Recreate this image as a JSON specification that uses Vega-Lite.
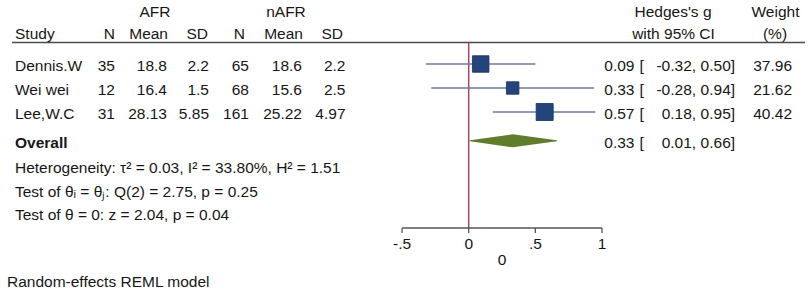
{
"$schema":"https://vega.github.io/schema/vega-lite/v6.json",
"width":810,"height":298,"padding":0,"autosize":{"type":"none"},
"background":"#ffffff",
"config":{"view":{"stroke":null},
 "locale":{"number":{"decimal":".","thousands":",","grouping":[3],"currency":["$",""],"minus":"-"}},
 "text":{"font":"Liberation Sans","fontSize":15.5,"color":"#161616","baseline":"middle"}},
"datasets":{
 "rows":[
  {"type":"study","study":"Dennis.W","n1":35,"m1":18.8,"sd1":2.2,"n2":65,"m2":18.6,"sd2":2.2,"g":0.09,"lo":-0.32,"hi":0.50,"w":37.96,"row":1},
  {"type":"study","study":"Wei wei","n1":12,"m1":16.4,"sd1":1.5,"n2":68,"m2":15.6,"sd2":2.5,"g":0.33,"lo":-0.28,"hi":0.94,"w":21.62,"row":2},
  {"type":"study","study":"Lee,W.C","n1":31,"m1":28.13,"sd1":5.85,"n2":161,"m2":25.22,"sd2":4.97,"g":0.57,"lo":0.18,"hi":0.95,"w":40.42,"row":3},
  {"type":"overall","study":"Overall","g":0.33,"lo":0.01,"hi":0.66,"row":4.2}
 ],
 "labels":[{"afr":"AFR","nafr":"nAFR","hg":"Hedges's g","wt":"Weight","study":"Study","n1":"N","m1":"Mean","sd1":"SD","n2":"N","m2":"Mean","sd2":"SD","ci":"with 95% CI","pct":"(%)","xtitle":"0","model":"Random-effects REML model"}],
 "ticks":[{"v":-0.5,"label":"-.5"},{"v":0,"label":"0"},{"v":0.5,"label":".5"},{"v":1,"label":"1"}],
 "notes":[
  {"text":"Heterogeneity: τ² = 0.03, I² = 33.80%, H² = 1.51","row":5.333},
  {"text":"Test of θᵢ = θⱼ: Q(2) = 2.75, p = 0.25","row":6.3125},
  {"text":"Test of θ = 0: z = 2.04, p = 0.04","row":7.2917}
 ]
},
"layer":[
 {"data":{"name":"labels"},"mark":{"type":"rule","stroke":"#4a4a4a","strokeWidth":1.6},
  "encoding":{"x":{"datum":-3.4261,"scale":{"domain":[-3.5161,2.5604],"nice":false,"zero":false},"axis":null},"x2":{"datum":2.5229},
   "y":{"datum":0.104,"scale":{"domain":[-1.6667,10.75],"reverse":true,"nice":false,"zero":false},"axis":null}}},
 {"data":{"name":"labels"},"mark":{"type":"rule","stroke":"#a8456f","strokeWidth":1.5},
  "encoding":{"x":{"datum":0,"axis":null},"y":{"datum":0.104,"axis":null},"y2":{"datum":7.833}}},
 {"data":{"name":"labels"},"mark":{"type":"rule","stroke":"#555555","strokeWidth":1.3},
  "encoding":{"x":{"datum":-0.5,"axis":null},"x2":{"datum":1},"y":{"datum":7.833,"axis":null}}},
 {"data":{"name":"ticks"},"layer":[
  {"mark":{"type":"rule","stroke":"#555555","strokeWidth":1.3},
   "encoding":{"x":{"field":"v","type":"quantitative","axis":null},"y":{"datum":7.833,"axis":null},"y2":{"datum":8.04}}},
  {"mark":{"type":"text","align":"center"},
   "encoding":{"x":{"field":"v","type":"quantitative","axis":null},"y":{"datum":8.5,"axis":null},"text":{"field":"label","type":"nominal"}}}
 ]},
 {"data":{"name":"rows"},"transform":[{"filter":"datum.type === 'study'"}],"layer":[
  {"mark":{"type":"rule","stroke":"#6a78a6","strokeWidth":1.3},
   "encoding":{"x":{"field":"lo","type":"quantitative","axis":null},"x2":{"field":"hi"},"y":{"field":"row","type":"quantitative","axis":null}}},
  {"mark":{"type":"point","shape":"square","filled":true,"fill":"#24457c","stroke":"#18305c","strokeWidth":0.8,"opacity":1},
   "encoding":{"x":{"field":"g","type":"quantitative","axis":null},"y":{"field":"row","type":"quantitative","axis":null},
    "size":{"field":"w","type":"quantitative","scale":{"domain":[0,40.42],"range":[0,290]},"legend":null}}},
  {"mark":{"type":"text","align":"left","dy":2},"encoding":{"x":{"datum":-3.4036,"axis":null},"y":{"field":"row","type":"quantitative","axis":null},"text":{"field":"study","type":"nominal"}}},
  {"mark":{"type":"text","align":"right","dy":2},"encoding":{"x":{"datum":-2.6534,"axis":null},"y":{"field":"row","type":"quantitative","axis":null},"text":{"field":"n1","type":"nominal"}}},
  {"mark":{"type":"text","align":"right","dy":2},"encoding":{"x":{"datum":-2.2633,"axis":null},"y":{"field":"row","type":"quantitative","axis":null},"text":{"field":"m1","type":"nominal"}}},
  {"mark":{"type":"text","align":"right","dy":2},"encoding":{"x":{"datum":-1.9482,"axis":null},"y":{"field":"row","type":"quantitative","axis":null},"text":{"field":"sd1","type":"nominal"}}},
  {"mark":{"type":"text","align":"right","dy":2},"encoding":{"x":{"datum":-1.6482,"axis":null},"y":{"field":"row","type":"quantitative","axis":null},"text":{"field":"n2","type":"nominal"}}},
  {"mark":{"type":"text","align":"right","dy":2},"encoding":{"x":{"datum":-1.2506,"axis":null},"y":{"field":"row","type":"quantitative","axis":null},"text":{"field":"m2","type":"nominal"}}},
  {"mark":{"type":"text","align":"right","dy":2},"encoding":{"x":{"datum":-0.9242,"axis":null},"y":{"field":"row","type":"quantitative","axis":null},"text":{"field":"sd2","type":"nominal"}}},
  {"mark":{"type":"text","align":"right","dy":2},"encoding":{"x":{"datum":2.4254,"axis":null},"y":{"field":"row","type":"quantitative","axis":null},"text":{"field":"w","type":"quantitative","format":".2f"}}}
 ]},
 {"data":{"name":"rows"},"transform":[{"filter":"datum.type === 'overall'"}],"layer":[
  {"transform":[{"fold":["lo","g","hi"]}],"mark":{"type":"trail","color":"#5f7d2a"},
   "encoding":{"x":{"field":"value","type":"quantitative","axis":null},"y":{"field":"row","type":"quantitative","axis":null},
    "order":{"field":"value","type":"quantitative"},
    "size":{"condition":{"test":"datum.key === 'g'","value":13},"value":0}}},
  {"mark":{"type":"text","align":"left","dy":2,"fontWeight":"bold"},"encoding":{"x":{"datum":-3.4036,"axis":null},"y":{"field":"row","type":"quantitative","axis":null},"text":{"field":"study","type":"nominal"}}}
 ]},
 {"data":{"name":"rows"},"layer":[
  {"mark":{"type":"text","align":"right","dy":2},"encoding":{"x":{"datum":1.2438,"axis":null},"y":{"field":"row","type":"quantitative","axis":null},"text":{"field":"g","type":"quantitative","format":".2f"}}},
  {"mark":{"type":"text","align":"left","dy":2},"encoding":{"x":{"datum":1.2814,"axis":null},"y":{"field":"row","type":"quantitative","axis":null},"text":{"value":"["}}},
  {"mark":{"type":"text","align":"right","dy":2},"encoding":{"x":{"datum":1.6737,"axis":null},"y":{"field":"row","type":"quantitative","axis":null},"text":{"field":"lo","type":"quantitative","format":".2f"}}},
  {"mark":{"type":"text","align":"left","dy":2},"encoding":{"x":{"datum":1.6737,"axis":null},"y":{"field":"row","type":"quantitative","axis":null},"text":{"value":","}}},
  {"mark":{"type":"text","align":"right","dy":2},"encoding":{"x":{"datum":1.9662,"axis":null},"y":{"field":"row","type":"quantitative","axis":null},"text":{"field":"hi","type":"quantitative","format":".2f"}}},
  {"mark":{"type":"text","align":"left","dy":2},"encoding":{"x":{"datum":1.9662,"axis":null},"y":{"field":"row","type":"quantitative","axis":null},"text":{"value":"]"}}}
 ]},
 {"data":{"name":"labels"},"layer":[
  {"mark":{"type":"text","align":"center"},"encoding":{"x":{"datum":-2.3533,"axis":null},"y":{"datum":-1.146,"axis":null},"text":{"field":"afr","type":"nominal"}}},
  {"mark":{"type":"text","align":"center"},"encoding":{"x":{"datum":-1.3706,"axis":null},"y":{"datum":-1.146,"axis":null},"text":{"field":"nafr","type":"nominal"}}},
  {"mark":{"type":"text","align":"center"},"encoding":{"x":{"datum":1.5326,"axis":null},"y":{"datum":-1.146,"axis":null},"text":{"field":"hg","type":"nominal"}}},
  {"mark":{"type":"text","align":"center"},"encoding":{"x":{"datum":2.3016,"axis":null},"y":{"datum":-1.146,"axis":null},"text":{"field":"wt","type":"nominal"}}},
  {"mark":{"type":"text","align":"left"},"encoding":{"x":{"datum":-3.4036,"axis":null},"y":{"datum":-0.2625,"axis":null},"text":{"field":"study","type":"nominal"}}},
  {"mark":{"type":"text","align":"right"},"encoding":{"x":{"datum":-2.6534,"axis":null},"y":{"datum":-0.2625,"axis":null},"text":{"field":"n1","type":"nominal"}}},
  {"mark":{"type":"text","align":"right"},"encoding":{"x":{"datum":-2.2558,"axis":null},"y":{"datum":-0.2625,"axis":null},"text":{"field":"m1","type":"nominal"}}},
  {"mark":{"type":"text","align":"right"},"encoding":{"x":{"datum":-1.9557,"axis":null},"y":{"datum":-0.2625,"axis":null},"text":{"field":"sd1","type":"nominal"}}},
  {"mark":{"type":"text","align":"right"},"encoding":{"x":{"datum":-1.6782,"axis":null},"y":{"datum":-0.2625,"axis":null},"text":{"field":"n2","type":"nominal"}}},
  {"mark":{"type":"text","align":"right"},"encoding":{"x":{"datum":-1.2431,"axis":null},"y":{"datum":-0.2625,"axis":null},"text":{"field":"m2","type":"nominal"}}},
  {"mark":{"type":"text","align":"right"},"encoding":{"x":{"datum":-0.9430,"axis":null},"y":{"datum":-0.2625,"axis":null},"text":{"field":"sd2","type":"nominal"}}},
  {"mark":{"type":"text","align":"center"},"encoding":{"x":{"datum":1.5364,"axis":null},"y":{"datum":-0.2625,"axis":null},"text":{"field":"ci","type":"nominal"}}},
  {"mark":{"type":"text","align":"center"},"encoding":{"x":{"datum":2.2978,"axis":null},"y":{"datum":-0.2625,"axis":null},"text":{"field":"pct","type":"nominal"}}},
  {"mark":{"type":"text","align":"center"},"encoding":{"x":{"datum":0.25,"axis":null},"y":{"datum":9.146,"axis":null},"text":{"field":"xtitle","type":"nominal"}}},
  {"mark":{"type":"text","align":"left"},"encoding":{"x":{"datum":-3.4636,"axis":null},"y":{"datum":10.083,"axis":null},"text":{"field":"model","type":"nominal"}}}
 ]},
 {"data":{"name":"notes"},"mark":{"type":"text","align":"left"},
  "encoding":{"x":{"datum":-3.4036,"axis":null},"y":{"field":"row","type":"quantitative","axis":null},"text":{"field":"text","type":"nominal"}}}
]
}
